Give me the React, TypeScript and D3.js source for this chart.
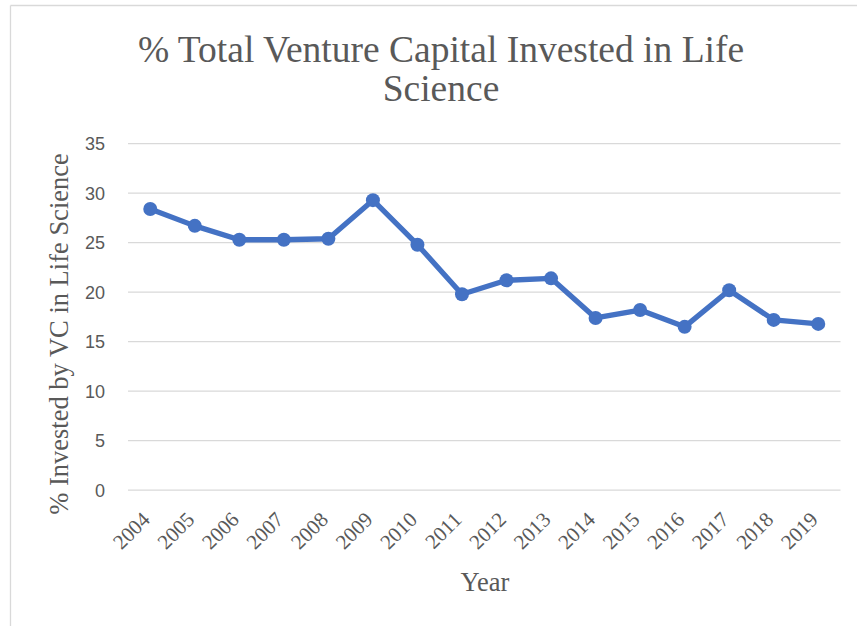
import React from "react";
import * as d3 from "d3";

const years: string[] = ["2004","2005","2006","2007","2008","2009","2010","2011","2012","2013","2014","2015","2016","2017","2018","2019"];
const values: number[] = [28.4, 26.7, 25.3, 25.3, 25.4, 29.3, 24.8, 19.8, 21.2, 21.4, 17.4, 18.2, 16.5, 20.2, 17.2, 16.8];
const yTicks: number[] = [0, 5, 10, 15, 20, 25, 30, 35];
const titleLines: string[] = ["% Total Venture Capital Invested in Life", "Science"];
const yTitle = "% Invested by VC in Life Science";
const xTitle = "Year";

const W = 857;
const H = 626;
const serif = "'Liberation Serif', 'Times New Roman', serif";
const sans = "'Liberation Sans', Arial, sans-serif";
const textColor = "#595959";
const gridColor = "#d9d9d9";
const lineColor = "#4472C4";

export default function App() {
  const x = d3.scaleBand<string>().domain(years).range([128, 840.5]).padding(0);
  const y = d3.scaleLinear().domain([0, 35]).range([490.2, 143.7]);
  const cx = (d: string) => (x(d) as number) + x.bandwidth() / 2;
  const line = d3
    .line<number>()
    .x((_, i) => cx(years[i]))
    .y((d) => y(d));

  return (
    <svg
      width={W}
      height={H}
      style={{ position: "absolute", left: 0, top: 0, background: "#fff" }}
    >
      <rect x={0} y={0} width={W} height={H} fill="#fff" />
      <line x1={10.5} y1={5.5} x2={W} y2={5.5} stroke={gridColor} strokeWidth={1.3} />
      <line x1={10.5} y1={5.5} x2={10.5} y2={H} stroke={gridColor} strokeWidth={1.3} />

      {titleLines.map((t, i) => (
        <text
          key={t}
          x={441}
          y={62 + i * 38.5}
          textAnchor="middle"
          fontFamily={serif}
          fontSize={37.5}
          fill={textColor}
        >
          {t}
        </text>
      ))}

      {yTicks.map((t) => (
        <g key={t}>
          <line
            x1={128}
            x2={840.5}
            y1={y(t)}
            y2={y(t)}
            stroke={gridColor}
            strokeWidth={1.3}
          />
          <text
            x={105}
            y={y(t)}
            dy="0.35em"
            textAnchor="end"
            fontFamily={sans}
            fontSize={18}
            fill={textColor}
          >
            {t}
          </text>
        </g>
      ))}

      {years.map((yr) => (
        <text
          key={yr}
          transform={`translate(${cx(yr) - 8},${512}) rotate(-45)`}
          textAnchor="end"
          dy="0.6em"
          fontFamily={serif}
          fontSize={21}
          fill={textColor}
        >
          {yr}
        </text>
      ))}

      <text
        transform={`translate(68,334) rotate(-90)`}
        textAnchor="middle"
        fontFamily={serif}
        fontSize={26.5}
        fill={textColor}
      >
        {yTitle}
      </text>
      <text
        x={485}
        y={591}
        textAnchor="middle"
        fontFamily={serif}
        fontSize={26.5}
        fill={textColor}
      >
        {xTitle}
      </text>

      <path
        d={line(values) || ""}
        fill="none"
        stroke={lineColor}
        strokeWidth={5.3}
        strokeLinejoin="round"
        strokeLinecap="round"
      />
      {values.map((v, i) => (
        <circle key={years[i]} cx={cx(years[i])} cy={y(v)} r={7} fill={lineColor} />
      ))}
    </svg>
  );
}
